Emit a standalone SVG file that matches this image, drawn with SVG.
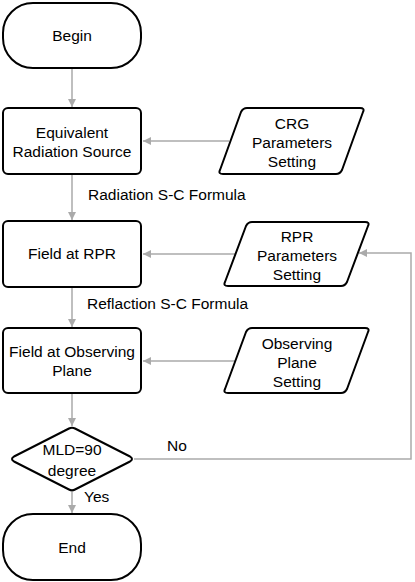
<svg xmlns="http://www.w3.org/2000/svg" width="415" height="582" viewBox="0 0 415 582">
<defs>
<marker id="ah" viewBox="0 0 10 10" refX="10" refY="5" markerWidth="8" markerHeight="8" markerUnits="userSpaceOnUse" orient="auto">
<path d="M0,0 L10,5 L0,10 z" fill="#aaaaaa"/>
</marker>
<style>
.n{fill:#fff;stroke:#000;stroke-width:2;stroke-linejoin:round}
.c{fill:none;stroke:#aaaaaa;stroke-width:1.5}
text{font-family:"Liberation Sans",Arial,sans-serif;font-size:15.5px;fill:#000}
.m{text-anchor:middle}
</style>
</defs>
<g id="connectors">
<path class="c" d="M72,68 V107" marker-end="url(#ah)"/>
<path class="c" d="M229,141 H143" marker-end="url(#ah)"/>
<path class="c" d="M72,174 V220" marker-end="url(#ah)"/>
<path class="c" d="M236,254 H143" marker-end="url(#ah)"/>
<path class="c" d="M72,287 V327" marker-end="url(#ah)"/>
<path class="c" d="M236,361 H143" marker-end="url(#ah)"/>
<path class="c" d="M72,393 V426" marker-end="url(#ah)"/>
<path class="c" d="M72,491 V513" marker-end="url(#ah)"/>
<path class="c" d="M134,459 H411 V253 H359" marker-end="url(#ah)"/>
<text x="88" y="200">Radiation S-C Formula</text>
<text x="87" y="309">Reflaction S-C Formula</text>
<text x="167" y="451">No</text>
<text x="84" y="502">Yes</text>
</g>
<g id="begin">
<rect class="n" x="3" y="3" width="138" height="65" rx="30" ry="30"/>
<text class="m" x="72" y="41">Begin</text>
</g>
<g id="equivalent">
<rect class="n" x="3" y="108" width="138" height="66" rx="5"/>
<text class="m" x="72" y="138">Equivalent</text>
<text class="m" x="72" y="157">Radiation Source</text>
</g>
<g id="crg">
<path class="n" d="M247,108 H360 Q365,108 363,112 L342,170 Q340,174 336,174 H223 Q218,174 220,170 L241,112 Q243,108 247,108 Z"/>
<text class="m" x="292" y="129">CRG</text>
<text class="m" x="292" y="148">Parameters</text>
<text class="m" x="292" y="167">Setting</text>
</g>
<g id="rpr-field">
<rect class="n" x="3" y="221" width="138" height="66" rx="5"/>
<text class="m" x="72" y="259">Field at RPR</text>
</g>
<g id="rpr-params">
<path class="n" d="M252,222 H365 Q370,222 368,226 L347,282 Q345,286 341,286 H228 Q223,286 225,282 L246,226 Q248,222 252,222 Z"/>
<text class="m" x="297" y="242">RPR</text>
<text class="m" x="297" y="261">Parameters</text>
<text class="m" x="297" y="280">Setting</text>
</g>
<g id="obs-field">
<rect class="n" x="3" y="328" width="138" height="65" rx="5"/>
<text class="m" x="72" y="357">Field at Observing</text>
<text class="m" x="72" y="376">Plane</text>
</g>
<g id="obs-params">
<path class="n" d="M252,328 H365 Q370,328 368,332 L347,389 Q345,393 341,393 H228 Q223,393 225,389 L246,332 Q248,328 252,328 Z"/>
<text class="m" x="297" y="349">Observing</text>
<text class="m" x="297" y="368">Plane</text>
<text class="m" x="297" y="387">Setting</text>
</g>
<g id="decision">
<path class="n" d="M69,428.5 Q72,427 75,428.5 L130,456.5 Q134,459 130,461.5 L75,489.5 Q72,491 69,489.5 L14,461.5 Q10,459 14,456.5 Z"/>
<text class="m" x="72" y="455">MLD=90</text>
<text class="m" x="72" y="476">degree</text>
</g>
<g id="end">
<rect class="n" x="3" y="514" width="138" height="66" rx="30" ry="30"/>
<text class="m" x="72" y="553">End</text>
</g>
</svg>
